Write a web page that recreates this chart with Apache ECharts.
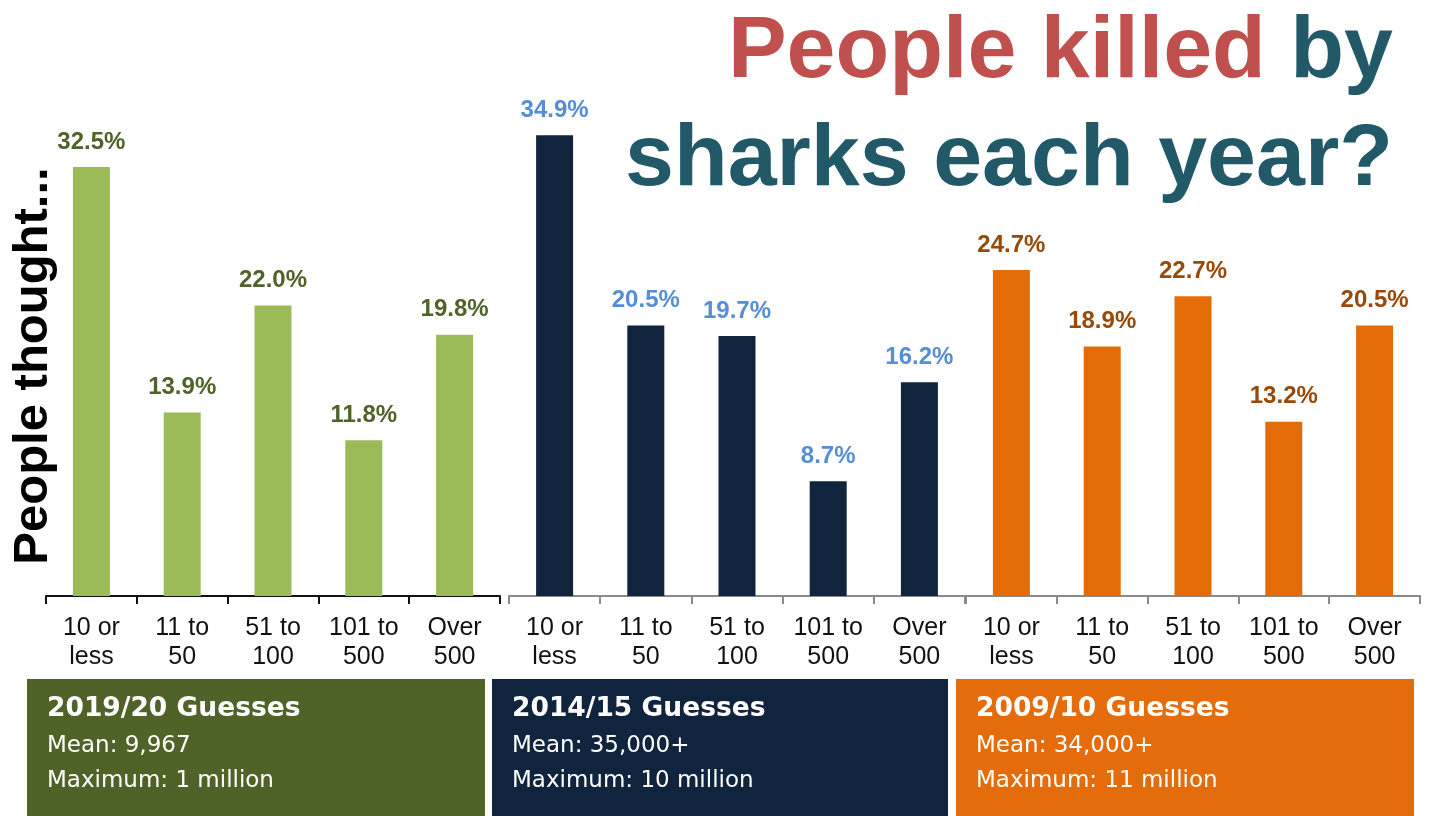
<!DOCTYPE html>
<html>
<head>
<meta charset="utf-8">
<title>People killed by sharks each year?</title>
<script src="https://cdn.jsdelivr.net/npm/echarts@6/dist/echarts.min.js"></script>
<style>
  html, body { margin: 0; padding: 0; background: #ffffff; }
  #chart { width: 1429px; height: 816px; }
</style>
</head>
<body>
<div id="chart"></div>
<script>
// Answer ranges offered in the survey
const categories = ['10 or\nless', '11 to\n50', '51 to\n100', '101 to\n500', 'Over\n500'];

// Share of respondents choosing each range (%)
const guesses2019 = [32.5, 13.9, 22.0, 11.8, 19.8];
const guesses2014 = [34.9, 20.5, 19.7, 8.7, 16.2];
const guesses2009 = [24.7, 18.9, 22.7, 13.2, 20.5];

// Summary lines shown under each survey wave
const waveTitles = ['2019/20 Guesses', '2014/15 Guesses', '2009/10 Guesses'];
const waveMeans = ['Mean: 9,967', 'Mean: 35,000+', 'Mean: 34,000+'];
const waveMaxima = ['Maximum: 1 million', 'Maximum: 10 million', 'Maximum: 11 million'];

const barColors = ['#9bbb59', '#10243e', '#e36c09'];
const labelColors = ['#4f6228', '#558ed5', '#984807'];
const boxColors = ['#4f6228', '#10243e', '#e46c0a'];
const axisColors = ['#111111', '#8a8a8a', '#8a8a8a'];

const gridLefts = [46, 509, 966];
const gridWidths = [454, 456, 454];
const boxLefts = [27, 492, 956];
const boxWidths = [458, 456, 458];

const seriesData = [guesses2019, guesses2014, guesses2009];

const chart = echarts.init(document.getElementById('chart'), null, { renderer: 'canvas' });

const grids = gridLefts.map((left, i) => ({
  left: left, width: gridWidths[i], top: 68, bottom: 220, containLabel: false
}));

const xAxes = gridLefts.map((_, i) => ({
  type: 'category',
  gridIndex: i,
  data: categories,
  boundaryGap: true,
  axisLine: { show: true, lineStyle: { color: axisColors[i], width: 2 } },
  axisTick: { show: true, length: 8, lineStyle: { color: axisColors[i], width: 2 } },
  axisLabel: {
    color: '#111111',
    fontFamily: 'Liberation Sans, Arial, sans-serif',
    fontSize: 25,
    lineHeight: 29,
    margin: 18,
    interval: 0
  }
}));

const yAxes = gridLefts.map((_, i) => ({
  type: 'value', gridIndex: i, min: 0, max: 40, show: false,
  splitLine: { show: false }
}));

const series = seriesData.map((data, i) => ({
  type: 'bar',
  xAxisIndex: i,
  yAxisIndex: i,
  data: data,
  barWidth: 37,
  itemStyle: { color: barColors[i] },
  label: {
    show: true,
    position: 'top',
    distance: 13,
    color: labelColors[i],
    fontFamily: 'Liberation Sans, Arial, sans-serif',
    fontWeight: 'bold',
    fontSize: 24,
    formatter: p => p.value.toFixed(1) + '%'
  },
  emphasis: { disabled: true }
}));

const graphics = [];
const headFont = 'bold 88px "Liberation Sans", Arial, sans-serif';

// Headline, two lines right-aligned
graphics.push({
  type: 'text',
  right: 36,
  top: 9,
  style: {
    text: '{r|People killed} {t|by}',
    align: 'right',
    rich: {
      r: { fill: '#c0504d', font: headFont },
      t: { fill: '#215968', font: headFont }
    },
    font: headFont
  }
});
graphics.push({
  type: 'text',
  right: 36,
  top: 117,
  style: {
    text: 'sharks each year?',
    fill: '#215968',
    font: headFont
  }
});

// Vertical side caption
graphics.push({
  type: 'text',
  x: 33,
  y: 366,
  rotation: Math.PI / 2,
  style: {
    text: 'People thought...',
    fill: '#000000',
    font: 'bold 49px "Liberation Sans", Arial, sans-serif',
    align: 'center',
    verticalAlign: 'middle'
  }
});

// Summary panels under each wave
boxLefts.forEach((left, i) => {
  graphics.push({
    type: 'rect',
    shape: { x: left, y: 679, width: boxWidths[i], height: 137 },
    style: { fill: boxColors[i] },
    silent: true
  });
  graphics.push({
    type: 'text',
    x: left + 20,
    y: 709,
    style: {
      text: waveTitles[i],
      fill: '#ffffff',
      font: 'bold 26.5px "DejaVu Sans", sans-serif',
      verticalAlign: 'middle'
    }
  });
  graphics.push({
    type: 'text',
    x: left + 20,
    y: 746,
    style: {
      text: waveMeans[i],
      fill: '#ffffff',
      font: '23px "DejaVu Sans", sans-serif',
      verticalAlign: 'middle'
    }
  });
  graphics.push({
    type: 'text',
    x: left + 20,
    y: 781,
    style: {
      text: waveMaxima[i],
      fill: '#ffffff',
      font: '23px "DejaVu Sans", sans-serif',
      verticalAlign: 'middle'
    }
  });
});

chart.setOption({
  animation: false,
  backgroundColor: '#ffffff',
  grid: grids,
  xAxis: xAxes,
  yAxis: yAxes,
  series: series,
  graphic: graphics
});
</script>
</body>
</html>
